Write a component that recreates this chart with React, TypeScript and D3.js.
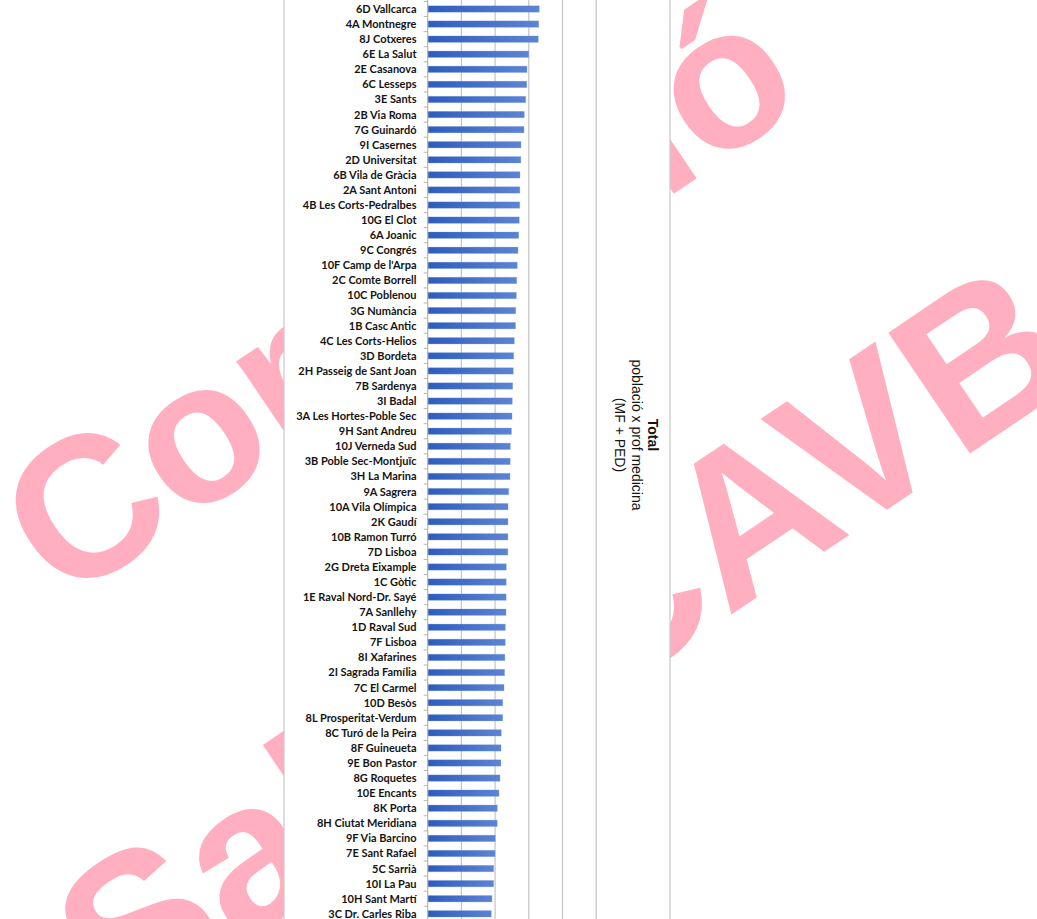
import React from 'react';
import * as d3 from 'd3';

// àrees bàsiques, ordenades de més a menys
const categories = [
  '6D Vallcarca', '4A Montnegre', '8J Cotxeres', '6E La Salut', '2E Casanova',
  '6C Lesseps', '3E Sants', '2B Via Roma', '7G Guinardó', '9I Casernes',
  '2D Universitat', '6B Vila de Gràcia', '2A Sant Antoni', '4B Les Corts-Pedralbes', '10G El Clot',
  '6A Joanic', '9C Congrés', "10F Camp de l'Arpa", '2C Comte Borrell', '10C Poblenou',
  '3G Numància', '1B Casc Antic', '4C Les Corts-Helios', '3D Bordeta', '2H Passeig de Sant Joan',
  '7B Sardenya', '3I Badal', '3A Les Hortes-Poble Sec', '9H Sant Andreu', '10J Verneda Sud',
  '3B Poble Sec-Montjuïc', '3H La Marina', '9A Sagrera', '10A Vila Olímpica', '2K Gaudí',
  '10B Ramon Turró', '7D Lisboa', '2G Dreta Eixample', '1C Gòtic', '1E Raval Nord-Dr. Sayé',
  '7A Sanllehy', '1D Raval Sud', '7F Lisboa', '8I Xafarines', '2I Sagrada Família',
  '7C El Carmel', '10D Besòs', '8L Prosperitat-Verdum', '8C Turó de la Peira', '8F Guineueta',
  '9E Bon Pastor', '8G Roquetes', '10E Encants', '8K Porta', '8H Ciutat Meridiana',
  '9F Via Barcino', '7E Sant Rafael', '5C Sarrià', '10I La Pau', '10H Sant Martí',
  '3C Dr. Carles Riba',
];

// població per professional de medicina (MF + PED), llegit del gràfic
const values = [
  1656, 1647, 1641, 1499, 1473,
  1470, 1454, 1433, 1429, 1384,
  1382, 1369, 1367, 1366, 1359,
  1350, 1340, 1329, 1320, 1315,
  1306, 1303, 1285, 1276, 1270,
  1261, 1255, 1251, 1243, 1226,
  1224, 1221, 1202, 1192, 1191,
  1190, 1189, 1166, 1165, 1164,
  1162, 1152, 1151, 1145, 1141,
  1132, 1113, 1112, 1092, 1088,
  1087, 1073, 1058, 1033, 1032,
  1003, 999, 979, 978, 954,
  944,
];

const xTicks = [500, 1000, 1500, 2000, 2500];
const legendLines = ['Total', 'població x prof medicina', '(MF + PED)'];
const watermarkLines = ['Comissió', 'Salut CAVB'];

const App = () => {
  const width = 1037;
  const height = 919;
  const chartLeft = 284;
  const chartRight = 670;

  const x = d3.scaleLinear().domain([0, 2500]).range([427.7, 596.2]);
  const step = 15.08;
  const y = d3.scaleBand<string>()
    .domain(categories)
    .range([1.46, 1.46 + step * categories.length])
    .paddingInner(0.575)
    .paddingOuter(0.2875);

  const bounds = d3.range(categories.length + 1).map(i => 1.46 + i * step);

  return (
    <svg width={width} height={height}
      style={{ position: 'absolute', left: 0, top: 0, display: 'block', background: '#fff' }}>
      <defs>
        <linearGradient id="barFill" x1="0" x2="1" y1="0" y2="0">
          <stop offset="0%" stopColor="#2d5cbd" />
          <stop offset="100%" stopColor="#5c84d4" />
        </linearGradient>
      </defs>

      {/* marca d'aigua */}
      <g fill="#ffafbf" fontFamily="Liberation Sans, Arial, sans-serif" fontWeight="bold">
        <text transform="translate(400,300) rotate(-34)" textAnchor="middle" y={65} fontSize={200}>{watermarkLines[0]}</text>
        <text transform="translate(567,647) rotate(-34)" textAnchor="middle" y={65} fontSize={212}>{watermarkLines[1]}</text>
      </g>

      {/* àrea del gràfic */}
      <rect x={chartLeft} y={-2} width={chartRight - chartLeft} height={height + 4}
        fill="#fff" stroke="#c9c9c9" strokeWidth={1.2} />

      {xTicks.map(t => (
        <line key={t} x1={x(t)} x2={x(t)} y1={0} y2={height} stroke="#c4c4c4" strokeWidth={1.2} />
      ))}

      {categories.map((c, i) => (
        <rect key={c} x={x(0)} y={y(c)} width={x(values[i]) - x(0)} height={y.bandwidth()}
          fill="url(#barFill)" stroke="#7d9de0" strokeOpacity={0.35} strokeWidth={0.8} />
      ))}

      <line x1={x(0)} x2={x(0)} y1={0} y2={height} stroke="#b5b5b5" strokeWidth={1.2} />
      {bounds.map((b, i) => (
        <line key={i} x1={x(0) - 4} x2={x(0)} y1={b} y2={b} stroke="#b5b5b5" strokeWidth={1} />
      ))}

      <g fontFamily="Lato, sans-serif" fontWeight="bold" fontSize={11} fill="#141414" textAnchor="end">
        {categories.map(c => (
          <text key={c} x={416.5} y={(y(c) ?? 0) + y.bandwidth() / 2} dy="0.36em">{c}</text>
        ))}
      </g>

      <g transform="translate(634,435) rotate(90)" fontFamily="Liberation Sans, Arial, sans-serif"
        fontSize={14} fill="#141414" textAnchor="middle">
        {legendLines.map((l, i) => (
          <text key={l} x={0} y={-14 + i * 16.5} fontWeight={i === 0 ? 'bold' : 'normal'}>{l}</text>
        ))}
      </g>
    </svg>
  );
};

export default App;
